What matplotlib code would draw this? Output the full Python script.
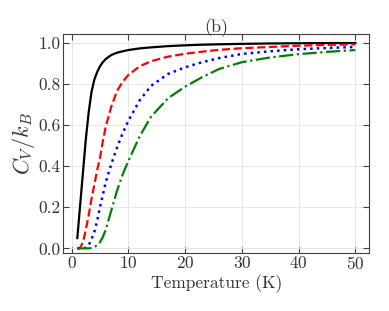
import matplotlib
matplotlib.use("Agg")
import matplotlib.pyplot as plt

# valores
temps = [1, 1.5, 2, 2.5, 3, 3.5, 4, 4.5, 5, 5.5, 6, 7, 8, 9, 10, 12, 14, 17, 20, 23, 26, 30, 35, 40, 45, 50]

cv_negro = [0.05, 0.21, 0.37, 0.53, 0.66, 0.76, 0.82, 0.857, 0.885, 0.905, 0.92, 0.94, 0.951, 0.958, 0.964,
            0.972, 0.977, 0.983, 0.987, 0.990, 0.992, 0.994, 0.996, 0.997, 0.998, 0.998]
cv_rojo = [0.0, 0.003, 0.03, 0.09, 0.16, 0.24, 0.31, 0.38, 0.44, 0.52, 0.59, 0.69, 0.765, 0.81, 0.843,
           0.885, 0.91, 0.932, 0.946, 0.956, 0.965, 0.973, 0.979, 0.985, 0.989, 0.992]
cv_azul = [0.0, 0.0, 0.0, 0.003, 0.015, 0.045, 0.08, 0.135, 0.2, 0.26, 0.32, 0.41, 0.49, 0.56, 0.62,
           0.72, 0.79, 0.848, 0.88, 0.905, 0.925, 0.945, 0.958, 0.968, 0.974, 0.979]
cv_verde = [0.0, 0.0, 0.0, 0.0, 0.0, 0.002, 0.007, 0.015, 0.03, 0.055, 0.09, 0.185, 0.28, 0.36, 0.425,
            0.545, 0.64, 0.73, 0.786, 0.832, 0.872, 0.905, 0.928, 0.944, 0.955, 0.964]

plt.rcParams['font.family'] = 'serif'
plt.rcParams['font.serif'] = ['cmr10']
plt.rcParams['mathtext.fontset'] = 'cm'
plt.rcParams['axes.formatter.use_mathtext'] = True

fig = plt.figure(figsize=(3.89, 3.11), dpi=100)
ax = fig.add_axes([0.163, 0.1875, 0.786, 0.7045])

ax.plot(temps, cv_negro, color='black', linestyle='-', linewidth=1.6)
ax.plot(temps, cv_rojo, color='red', linestyle='--', linewidth=1.6)
ax.plot(temps, cv_azul, color='blue', linestyle=':', linewidth=1.8)
ax.plot(temps, cv_verde, color='green', linestyle='-.', linewidth=1.6)

ax.set_xlim(-1.45, 52.45)
ax.set_ylim(-0.021, 1.044)
ax.set_xticks([0, 10, 20, 30, 40, 50])
ax.set_yticks([0.0, 0.2, 0.4, 0.6, 0.8, 1.0])
ax.set_yticklabels(['0.0', '0.2', '0.4', '0.6', '0.8', '1.0'])

ax.grid(True, color='0.9', linewidth=0.7)
ax.tick_params(direction='in', top=True, right=True, length=4, labelsize=12.5, colors='0.25',
               labelcolor='0.2', pad=2)
for s in ax.spines.values():
    s.set_color('0.25')

ax.set_xlabel('Temperature (K)', fontsize=12.5, color='0.2', labelpad=1)
ax.set_ylabel(r'$C_V/k_B$', fontsize=16, color='0.2', labelpad=1)
ax.set_title('(b)', fontsize=13, color='0.2', pad=1)

fig.savefig('out.png', dpi=100)
